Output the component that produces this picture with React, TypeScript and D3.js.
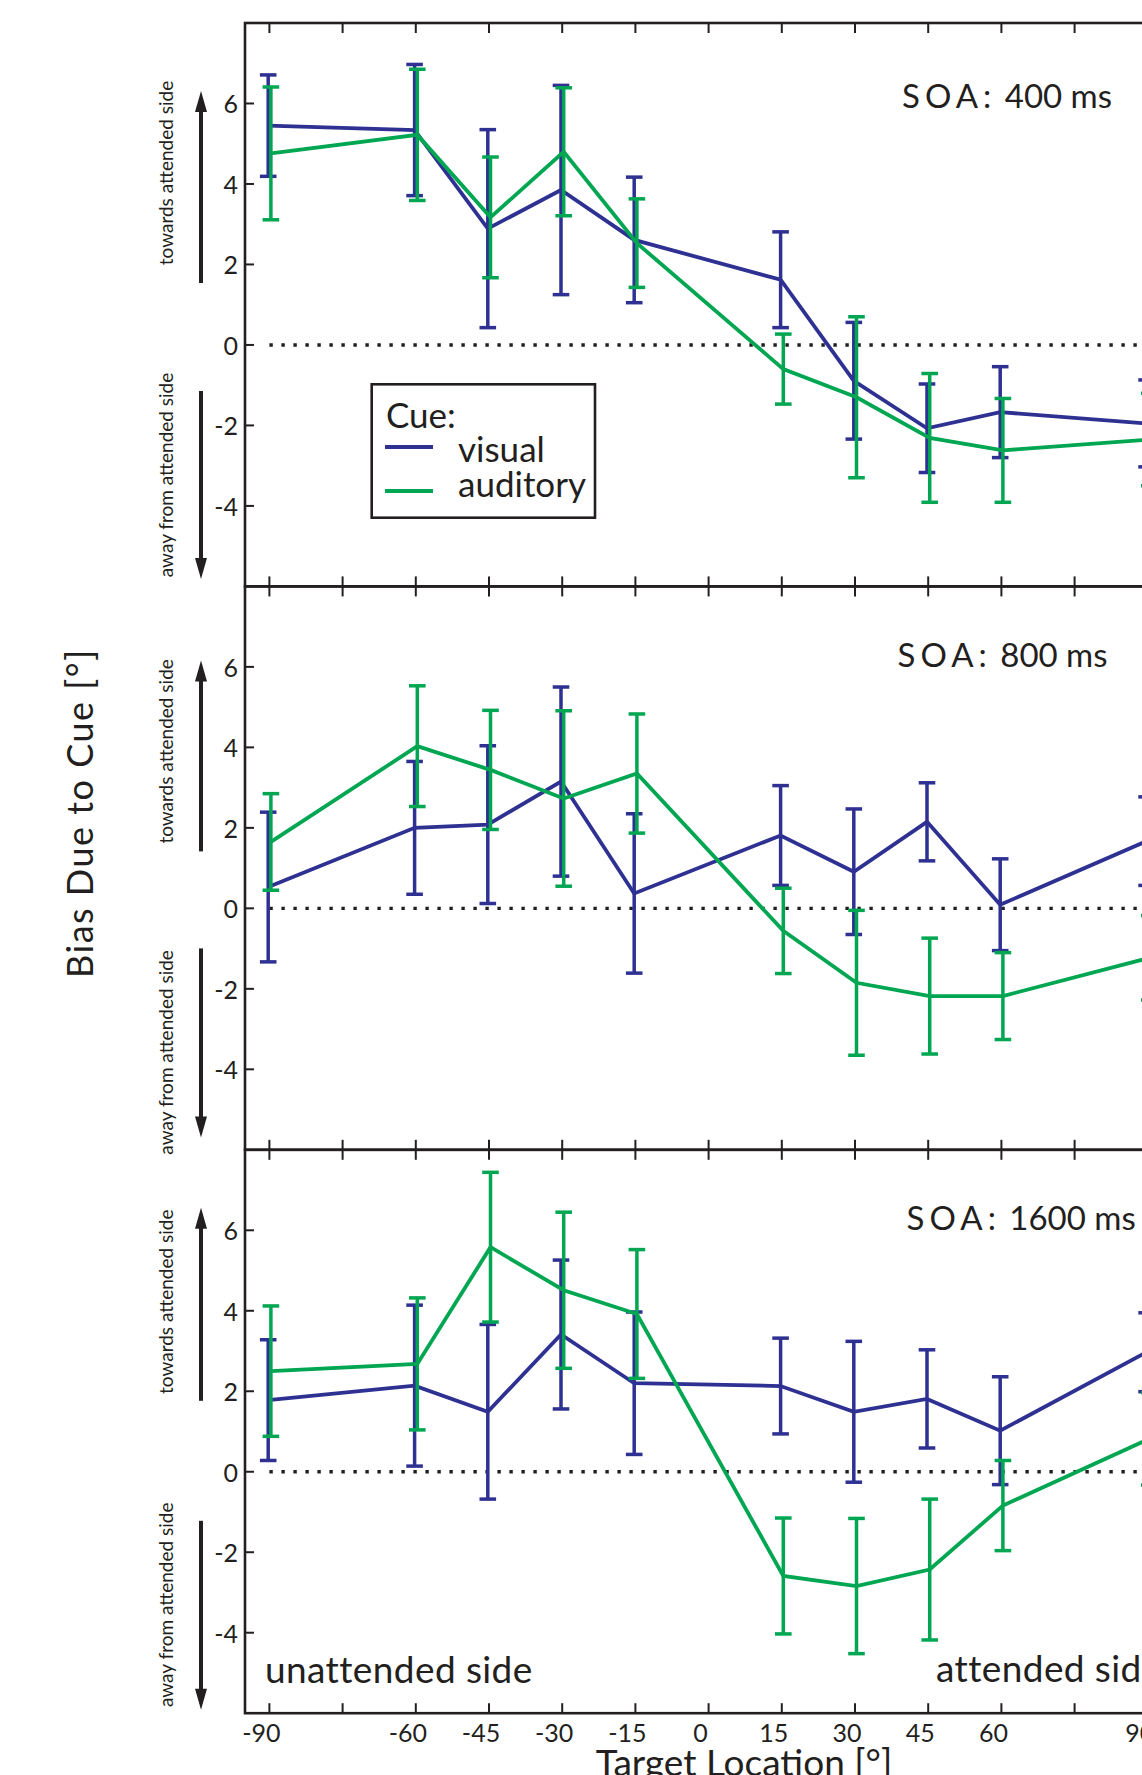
import React from "react";
import * as d3 from "d3";

// ---------- data ----------
const locations = [-90, -60, -45, -30, -15, 15, 30, 45, 60, 90];
const xTickLabels = [-90, -60, -45, -30, -15, 0, 15, 30, 45, 60, 90];
const xMinorTicks = [-90, -75, -60, -45, -30, -15, 0, 15, 30, 45, 60, 75, 90];
const yTickValues = [-4, -2, 0, 2, 4, 6];
const soaLabels = ["400 ms", "800 ms", "1600 ms"];
const cueNames = ["visual", "auditory"];

// SOA 400 ms
const visual400 = [5.45, 5.34, 2.89, 3.85, 2.61, 1.62, -0.89, -2.07, -1.67, -1.95];
const visual400Err = [1.26, 1.63, 2.46, 2.6, 1.56, 1.19, 1.45, 1.1, 1.13, 1.08];
const auditory400 = [4.76, 5.22, 3.17, 4.8, 2.53, -0.6, -1.3, -2.31, -2.62, -2.35];
const auditory400Err = [1.65, 1.63, 1.5, 1.59, 1.1, 0.87, 2.0, 1.6, 1.29, 1.15];

// SOA 800 ms
const visual800 = [0.53, 2.0, 2.08, 3.15, 0.37, 1.81, 0.91, 2.15, 0.09, 1.67];
const visual800Err = [1.86, 1.65, 1.96, 2.35, 1.98, 1.24, 1.56, 0.97, 1.14, 1.1];
const auditory800 = [1.65, 4.03, 3.44, 2.73, 3.35, -0.56, -1.85, -2.18, -2.18, -1.23];
const auditory800Err = [1.2, 1.5, 1.48, 2.18, 1.48, 1.06, 1.8, 1.44, 1.08, 1.05];

// SOA 1600 ms
const visual1600 = [1.78, 2.14, 1.49, 3.41, 2.2, 2.13, 1.49, 1.81, 1.02, 2.97];
const visual1600Err = [1.5, 2.0, 2.17, 1.85, 1.77, 1.19, 1.75, 1.22, 1.34, 0.98];
const auditory1600 = [2.5, 2.68, 5.58, 4.51, 3.92, -2.59, -2.84, -2.43, -0.84, 0.82];
const auditory1600Err = [1.62, 1.64, 1.86, 1.94, 1.6, 1.44, 1.68, 1.75, 1.12, 1.15];

const panelsData = [
  { soa: soaLabels[0], series: [{ m: visual400, e: visual400Err }, { m: auditory400, e: auditory400Err }] },
  { soa: soaLabels[1], series: [{ m: visual800, e: visual800Err }, { m: auditory800, e: auditory800Err }] },
  { soa: soaLabels[2], series: [{ m: visual1600, e: visual1600Err }, { m: auditory1600, e: auditory1600Err }] },
];

// ---------- style / layout ----------
const W = 1142;
const H = 1775;
const INK = "#231f20";
const COLORS = ["#2e3192", "#00a651"];
const OFFSETS = [-1.2, 1.5];
const FONT = "Lato, 'Open Sans', sans-serif";
const PANEL_TOP = 23;
const PANEL_H = 563.4;
const LEFT = 245;
const PX_PER_DEG = 4.88;

const panelLayout = [
  { arrowUp: [68, 260], arrowDown: [368, 556], towards: 150, away: 452, soaX: 902, soaY: 85 },
  { arrowUp: [74, 265], arrowDown: [362, 551], towards: 165, away: 466, soaX: 897.5, soaY: 81 },
  { arrowUp: [58, 251], arrowDown: [371, 560], towards: 152, away: 455, soaX: 906.6, soaY: 80 },
];

const x = d3.scaleLinear().domain([-95, 95]).range([LEFT, LEFT + 190 * PX_PER_DEG]);

function Arrow({ cx, y1, y2, dir }: { cx: number; y1: number; y2: number; dir: "up" | "down" }) {
  const head = 21;
  const hw = 6;
  if (dir === "up") {
    return (
      <g>
        <line x1={cx} x2={cx} y1={y2} y2={y1 + head - 2} stroke={INK} strokeWidth={4} />
        <path d={`M${cx},${y1} L${cx - hw},${y1 + head} L${cx + hw},${y1 + head} Z`} fill={INK} />
      </g>
    );
  }
  return (
    <g>
      <line x1={cx} x2={cx} y1={y1} y2={y2 - head + 2} stroke={INK} strokeWidth={4} />
      <path d={`M${cx},${y2} L${cx - hw},${y2 - head} L${cx + hw},${y2 - head} Z`} fill={INK} />
    </g>
  );
}

function Panel({ idx }: { idx: number }) {
  const top = PANEL_TOP + idx * PANEL_H;
  const bottom = top + PANEL_H;
  const y = d3.scaleLinear().domain([-6, 8]).range([bottom, top]);
  const lay = panelLayout[idx];
  const pd = panelsData[idx];
  const cap = 8.3;
  return (
    <g>
      {/* frame */}
      <rect x={LEFT} y={top} width={x(95) - LEFT} height={PANEL_H} fill="none" stroke={INK} strokeWidth={2.6} />
      {/* x ticks top & bottom (inward) */}
      {xMinorTicks.map((t) => (
        <g key={t}>
          <line x1={x(t)} x2={x(t)} y1={top} y2={top + 10} stroke={INK} strokeWidth={2} />
          <line x1={x(t)} x2={x(t)} y1={bottom} y2={bottom - 10} stroke={INK} strokeWidth={2} />
        </g>
      ))}
      {/* y ticks */}
      {yTickValues.map((t) => (
        <g key={t}>
          <line x1={LEFT} x2={LEFT + 9} y1={y(t)} y2={y(t)} stroke={INK} strokeWidth={2} />
          <text x={238} y={y(t)} textAnchor="end" dominantBaseline="central" fontFamily={FONT} fontSize={25} fill={INK}>
            {t}
          </text>
        </g>
      ))}
      {/* zero dotted line */}
      <line x1={x(-90)} x2={x(95)} y1={y(0)} y2={y(0)} stroke={INK} strokeWidth={3.4} strokeDasharray="3.4 8.6" />
      {/* series */}
      {pd.series.map((s, si) => {
        const line = d3
          .line<number>()
          .x((_, i) => x(locations[i]) + OFFSETS[si])
          .y((d) => y(d));
        return (
          <g key={si}>
            {s.m.map((m, i) => {
              const cx = x(locations[i]) + OFFSETS[si];
              const hi = y(m + s.e[i]);
              const lo = y(m - s.e[i]);
              return (
                <g key={i} stroke={COLORS[si]} strokeWidth={3.5}>
                  <line x1={cx} x2={cx} y1={hi} y2={lo} />
                  <line x1={cx - cap} x2={cx + cap} y1={hi} y2={hi} />
                  <line x1={cx - cap} x2={cx + cap} y1={lo} y2={lo} />
                </g>
              );
            })}
            <path d={line(s.m) || ""} fill="none" stroke={COLORS[si]} strokeWidth={3.8} strokeLinejoin="miter" />
          </g>
        );
      })}
      {/* SOA label */}
      <text x={lay.soaX} y={top + lay.soaY} fontFamily={FONT} fontSize={33} fill={INK}>
        <tspan letterSpacing={5}>SOA:</tspan>
        <tspan> {pd.soa}</tspan>
      </text>
      {/* arrows and side texts */}
      <Arrow cx={201} y1={top + lay.arrowUp[0]} y2={top + lay.arrowUp[1]} dir="up" />
      <Arrow cx={201} y1={top + lay.arrowDown[0]} y2={top + lay.arrowDown[1]} dir="down" />
      <text
        transform={`translate(173, ${top + lay.towards}) rotate(-90)`}
        textAnchor="middle"
        fontFamily={FONT}
        fontSize={19}
        fill={INK}
      >
        towards  attended side
      </text>
      <text
        transform={`translate(173, ${top + lay.away}) rotate(-90)`}
        textAnchor="middle"
        fontFamily={FONT}
        fontSize={19}
        fill={INK}
      >
        away from attended side
      </text>
    </g>
  );
}

export default function App() {
  const bottom3 = PANEL_TOP + 3 * PANEL_H;
  return (
    <svg
      width={W}
      height={H}
      viewBox={`0 0 ${W} ${H}`}
      style={{ position: "absolute", left: 0, top: 0, background: "#fff" }}
    >
      <rect width={W} height={H} fill="#fff" />
      {[0, 1, 2].map((i) => (
        <Panel key={i} idx={i} />
      ))}
      {/* legend */}
      <g>
        <rect x={371.7} y={384.3} width={223.3} height={133.4} fill="#fff" stroke={INK} strokeWidth={2.6} />
        <text x={386} y={428} fontFamily={FONT} fontSize={35} fill={INK}>
          Cue:
        </text>
        {cueNames.map((n, i) => (
          <g key={n}>
            <line x1={385} x2={433} y1={447 + i * 44} y2={447 + i * 44} stroke={COLORS[i]} strokeWidth={4} />
            <text x={458} y={462 + i * 35} fontFamily={FONT} fontSize={35} fill={INK}>
              {n}
            </text>
          </g>
        ))}
      </g>
      {/* x tick labels */}
      {xTickLabels.map((t) => (
        <text key={t} x={x(t) - 8} y={1742} textAnchor="middle" fontFamily={FONT} fontSize={25} fill={INK}>
          {t}
        </text>
      ))}
      {/* side annotations in bottom panel */}
      <text x={265} y={1683} fontFamily={FONT} fontSize={37} letterSpacing={0.4} fill={INK}>
        unattended side
      </text>
      <text x={936} y={1682} fontFamily={FONT} fontSize={37} letterSpacing={0.4} fill={INK}>
        attended side
      </text>
      {/* axis titles */}
      <text x={744} y={1776} textAnchor="middle" fontFamily={FONT} fontSize={37} fill={INK}>
        Target Location [°]
      </text>
      <text
        transform={`translate(79, ${(PANEL_TOP + bottom3) / 2 - 55}) rotate(-90)`}
        textAnchor="middle"
        dominantBaseline="central"
        fontFamily={FONT}
        fontSize={36}
        letterSpacing={1.5}
        fill={INK}
      >
        Bias Due to Cue [°]
      </text>
    </svg>
  );
}
